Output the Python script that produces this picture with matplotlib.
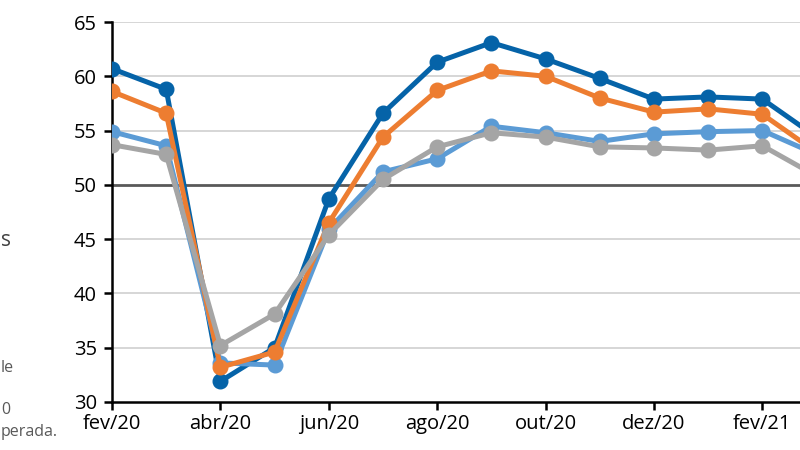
import numpy as np
import matplotlib.pyplot as plt
from matplotlib import font_manager

# months shown on the x axis (mar/21 sits just past the right edge)
months = ["fev/20", "mar/20", "abr/20", "mai/20", "jun/20", "jul/20", "ago/20",
          "set/20", "out/20", "nov/20", "dez/20", "jan/21", "fev/21", "mar/21"]

# series
dark_blue = [60.7, 58.8, 31.9, 35.0, 48.7, 56.6, 61.3, 63.1, 61.6, 59.8, 57.9, 58.1, 57.9, 54.4]
light_blue = [54.9, 53.6, 33.6, 33.4, 45.9, 51.2, 52.4, 55.4, 54.8, 54.0, 54.7, 54.9, 55.0, 52.8]
orange = [58.6, 56.6, 33.2, 34.6, 46.5, 54.4, 58.7, 60.5, 60.0, 58.0, 56.7, 57.0, 56.5, 53.0]
gray = [53.7, 52.8, 35.2, 38.1, 45.4, 50.5, 53.5, 54.8, 54.4, 53.5, 53.4, 53.2, 53.6, 50.8]

yticks = [30, 35, 40, 45, 50, 55, 60, 65]

names = [f.name for f in font_manager.fontManager.ttflist]
if "Liberation Sans Narrow" in names:
    plt.rcParams['font.family'] = ['Liberation Sans Narrow', 'DejaVu Sans']
else:
    plt.rcParams['font.family'] = ['Open Sans', 'DejaVu Sans']

fig = plt.figure(figsize=(8, 4.5), dpi=100)
# axes runs off the right edge like the cropped original
ax = fig.add_axes([0.14, 0.1067, 0.9146, 0.8444])

x = np.arange(len(months))

for yv in yticks:
    if yv == 50:
        ax.axhline(yv, color="#595959", lw=2, zorder=1)
    elif yv != 30:
        ax.axhline(yv, color="#d0d0d0", lw=1.2, zorder=0)

ax.plot(x, dark_blue, color="#0563a8", lw=3.6, marker="o", ms=10.5, zorder=3)
ax.plot(x, light_blue, color="#5b9bd5", lw=3.6, marker="o", ms=10.5, zorder=3)
ax.plot(x, orange, color="#ed7d31", lw=3.6, marker="o", ms=10.5, zorder=3)
ax.plot(x, gray, color="#a5a5a5", lw=3.6, marker="o", ms=10.5, zorder=3)

ax.set_xlim(0, 13.5)
ax.set_ylim(30, 65)
ax.set_yticks(yticks)
ax.set_xticks(x[::2])
ax.set_xticklabels(months[::2])

for s in ["top", "right"]:
    ax.spines[s].set_visible(False)
for s in ["left", "bottom"]:
    ax.spines[s].set_linewidth(1.8)
    ax.spines[s].set_color("black")
ax.tick_params(axis="both", direction="out", length=6, width=1.8, labelsize=14.5, colors="black")
ax.tick_params(axis="y", pad=5)
ax.tick_params(axis="x", pad=3)

# fragments of the neighbouring panel's text, cut by the crop
fig.text(1 / 800, 1 - 240 / 450, "s", fontsize=15, color="#404040", va="center", ha="left")
fig.text(1 / 800, 1 - 368 / 450, "le", fontsize=11.5, color="#595959", va="center", ha="left")
fig.text(1 / 800, 1 - 410 / 450, "0", fontsize=11.5, color="#595959", va="center", ha="left")
fig.text(1 / 800, 1 - 432 / 450, "perada.", fontsize=11.5, color="#595959", va="center", ha="left")

fig.savefig("out.png", dpi=100)
